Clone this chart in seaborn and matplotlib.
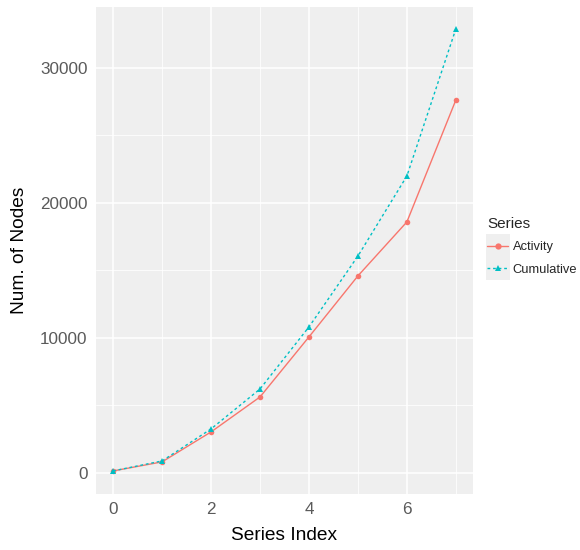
import numpy as np
import pandas as pd
import matplotlib
matplotlib.use("Agg")
import matplotlib.pyplot as plt
import seaborn as sns
from matplotlib.ticker import MultipleLocator
from matplotlib.patches import Rectangle

# values
series_index = [0, 1, 2, 3, 4, 5, 6, 7]
activity = [150, 820, 3040, 5630, 10080, 14600, 18600, 27630]
cumulative = [150, 890, 3260, 6220, 10820, 16070, 22000, 32900]
series_names = ["Activity", "Cumulative"]

df = pd.DataFrame({
    "Series Index": series_index * 2,
    "Num. of Nodes": activity + cumulative,
    "Series": [series_names[0]] * len(activity) + [series_names[1]] * len(cumulative),
})

bg = "#EFEFEF"
sns.set_style("darkgrid", {"axes.facecolor": bg, "grid.color": "white"})
plt.rcParams["font.family"] = ["Liberation Sans", "DejaVu Sans"]

W, H = 580, 550
fig = plt.figure(figsize=(5.8, 5.5), dpi=100)
ax = fig.add_axes([96 / W, 1 - 494 / H, 377 / W, 487 / H])

pal = {"Activity": "#F8766D", "Cumulative": "#00BFC4"}
sns.lineplot(data=df, x="Series Index", y="Num. of Nodes", hue="Series", style="Series",
             palette=pal, markers={"Activity": "o", "Cumulative": "^"},
             dashes={"Activity": "", "Cumulative": (2, 2)},
             markersize=4, markeredgewidth=0, linewidth=1.0, ax=ax)

ax.set_xlim(-0.35, 7.35)
ax.set_ylim(-1560, 34520)
ax.xaxis.set_major_locator(MultipleLocator(2))
ax.xaxis.set_minor_locator(MultipleLocator(1))
ax.yaxis.set_major_locator(MultipleLocator(10000))
ax.yaxis.set_minor_locator(MultipleLocator(5000))
ax.grid(which="major", color="white", linewidth=1.1)
ax.grid(which="minor", color="white", linewidth=0.55)
ax.set_axisbelow(True)
for s in ax.spines.values():
    s.set_visible(False)
ax.tick_params(axis="both", which="major", length=3, width=0.8, color="#333333",
               labelsize=12.3, labelcolor="#5A5A5A", direction="out", pad=3)
ax.tick_params(axis="both", which="minor", length=0)
ax.set_xlabel("Series Index", fontsize=13.8, color="black", labelpad=7)
ax.set_ylabel("Num. of Nodes", fontsize=13.8, color="black", labelpad=9)

leg = ax.legend(title="Series", loc="upper left",
                bbox_to_anchor=(487 / W, 1 - 217 / H), bbox_transform=fig.transFigure,
                borderaxespad=0, borderpad=0, frameon=False, fontsize=9.3,
                title_fontsize=11, handlelength=1.65, handletextpad=0.35,
                labelspacing=0.8, alignment="left")
for h in leg.legend_handles:
    h.set_markersize(4.5)

# grey key backgrounds, like ggplot's legend keys
fig.canvas.draw()
for h in leg.legend_handles:
    bb = h.get_window_extent()
    cx, cy = (bb.x0 + bb.x1) / 2, (bb.y0 + bb.y1) / 2
    fig.patches.append(Rectangle(((cx - 12) / W, (cy - 11.5) / H), 24 / W, 23 / H,
                                 transform=fig.transFigure, facecolor=bg,
                                 edgecolor="none", zorder=-1))

fig.savefig("out.png", dpi=100)
